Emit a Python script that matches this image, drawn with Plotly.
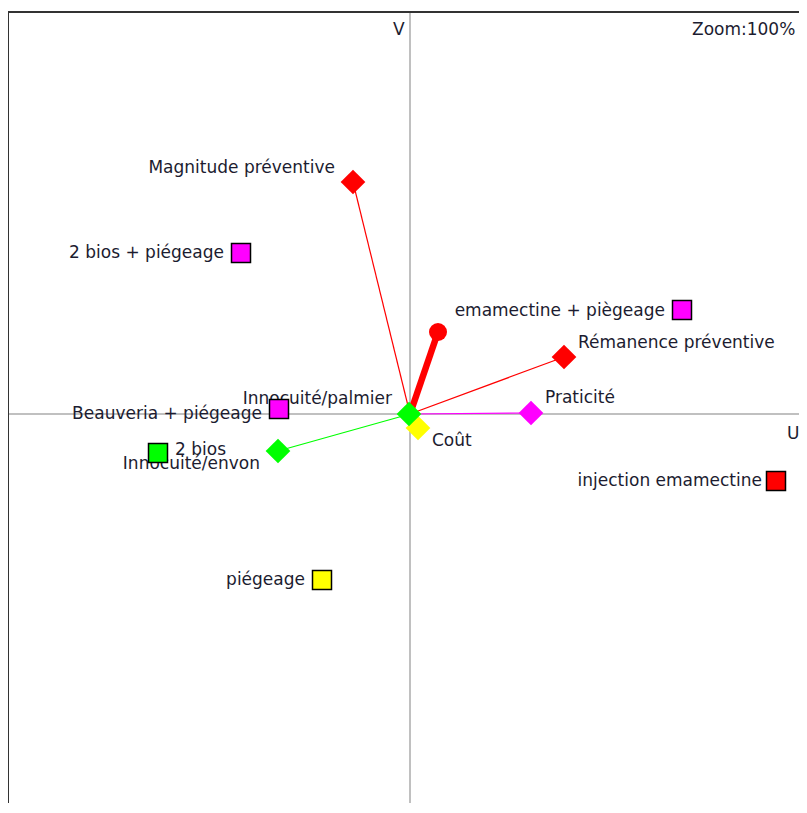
import plotly.graph_objects as go

# Criteria (GAIA plane, U/V coordinates)
crit_names = ["Magnitude préventive", "Rémanence préventive", "Praticité", "Coût",
              "Innocuité/palmier", "Innocuité/envon"]
crit_u = [-57, 154, 121, 8, -1, -132]
crit_v = [232, 57, 1, -14, 0, -37]
crit_colors = ["#ff0000", "#ff0000", "#ff00ff", "#ffff00", "#00ff00", "#00ff00"]

# Alternatives
alt_names = ["2 bios + piégeage", "emamectine + piègeage", "injection emamectine",
             "Beauveria + piégeage", "2 bios", "piégeage"]
alt_u = [-169, 272, 366, -131, -252, -88]
alt_v = [161, 104, -67, 5, -39, -166]
alt_colors = ["#ff00ff", "#ff00ff", "#ff0000", "#ff00ff", "#00ff00", "#ffff00"]

# Decision stick
stick_u = 28
stick_v = 82

FONT = "DejaVu Sans"
FS = 17
TXT = "#1c1c30"

# label placement (style): (dx, dy, side)
crit_lab = [(-18, 13, "left"), (14, 13, "right"), (14, 14, "right"), (14, -14, "right"),
            (-17, 14, "left"), (-18, -14, "left")]
alt_lab = [(-17, -1, "left"), (-17, -2, "left"), (-14, -1, "left"), (-17, -6, "left"),
           (17, 2, "right"), (-17, -1, "left")]

fig = go.Figure()

# criteria lines
for n, u, v, c in zip(crit_names, crit_u, crit_v, crit_colors):
    fig.add_trace(go.Scatter(x=[0, u], y=[0, v], mode="lines",
                             line=dict(color=c, width=1.2), hoverinfo="skip"))

# decision stick
fig.add_trace(go.Scatter(x=[0, stick_u], y=[0, stick_v], mode="lines",
                         line=dict(color="#ff0000", width=6.5), hoverinfo="skip"))
fig.add_trace(go.Scatter(x=[stick_u], y=[stick_v], mode="markers",
                         marker=dict(symbol="circle", size=18, color="#ff0000"),
                         hoverinfo="skip"))

# labels
for names, us, vs, labs in [(alt_names, alt_u, alt_v, alt_lab),
                            (crit_names, crit_u, crit_v, crit_lab)]:
    for n, u, v, (dx, dy, side) in zip(names, us, vs, labs):
        fig.add_trace(go.Scatter(
            x=[u + dx], y=[v + dy], mode="text", text=[n],
            textposition="middle left" if side == "left" else "middle right",
            textfont=dict(family=FONT, size=FS, color=TXT), hoverinfo="skip"))

# criteria diamonds
fig.add_trace(go.Scatter(x=crit_u, y=crit_v, mode="markers",
                         marker=dict(symbol="diamond", size=19, color=crit_colors,
                                     line=dict(width=0)), hoverinfo="text", text=crit_names))
# alternatives squares
fig.add_trace(go.Scatter(x=alt_u, y=alt_v, mode="markers",
                         marker=dict(symbol="square", size=19, color=alt_colors,
                                     line=dict(width=1.5, color="#000000")),
                         hoverinfo="text", text=alt_names))

fig.add_annotation(x=383, y=0, xref="x", yref="y", text="U", showarrow=False,
                   xanchor="center", yanchor="top", yshift=-7,
                   font=dict(family=FONT, size=FS, color=TXT))
fig.add_annotation(x=-11, y=402, xref="x", yref="y", text="V", showarrow=False,
                   xanchor="center", yanchor="top", yshift=-5,
                   font=dict(family=FONT, size=FS, color=TXT))
fig.add_annotation(x=1, y=1, xref="paper", yref="paper", text="Zoom:100%", showarrow=False,
                   xanchor="right", yanchor="top", xshift=-10, yshift=-5,
                   font=dict(family=FONT, size=FS, color=TXT))

# borders (left, top)
fig.add_shape(type="line", xref="paper", yref="paper", x0=0, x1=0, y0=0, y1=1,
              line=dict(color="#333333", width=2))
fig.add_shape(type="line", xref="paper", yref="paper", x0=0, x1=1, y0=1, y1=1,
              line=dict(color="#333333", width=2))

fig.update_layout(
    width=799, height=795,
    margin=dict(l=0, r=0, t=4, b=0),
    paper_bgcolor="white", plot_bgcolor="white",
    showlegend=False,
    xaxis=dict(range=[-402, 397], showgrid=False, zeroline=True, zerolinecolor="#c0c0c0",
               zerolinewidth=1.5, showticklabels=False, ticks="", fixedrange=True),
    yaxis=dict(range=[-389, 402], showgrid=False, zeroline=True, zerolinecolor="#c0c0c0",
               zerolinewidth=1.5, showticklabels=False, ticks="", fixedrange=True),
)

fig.write_html("out.html")
